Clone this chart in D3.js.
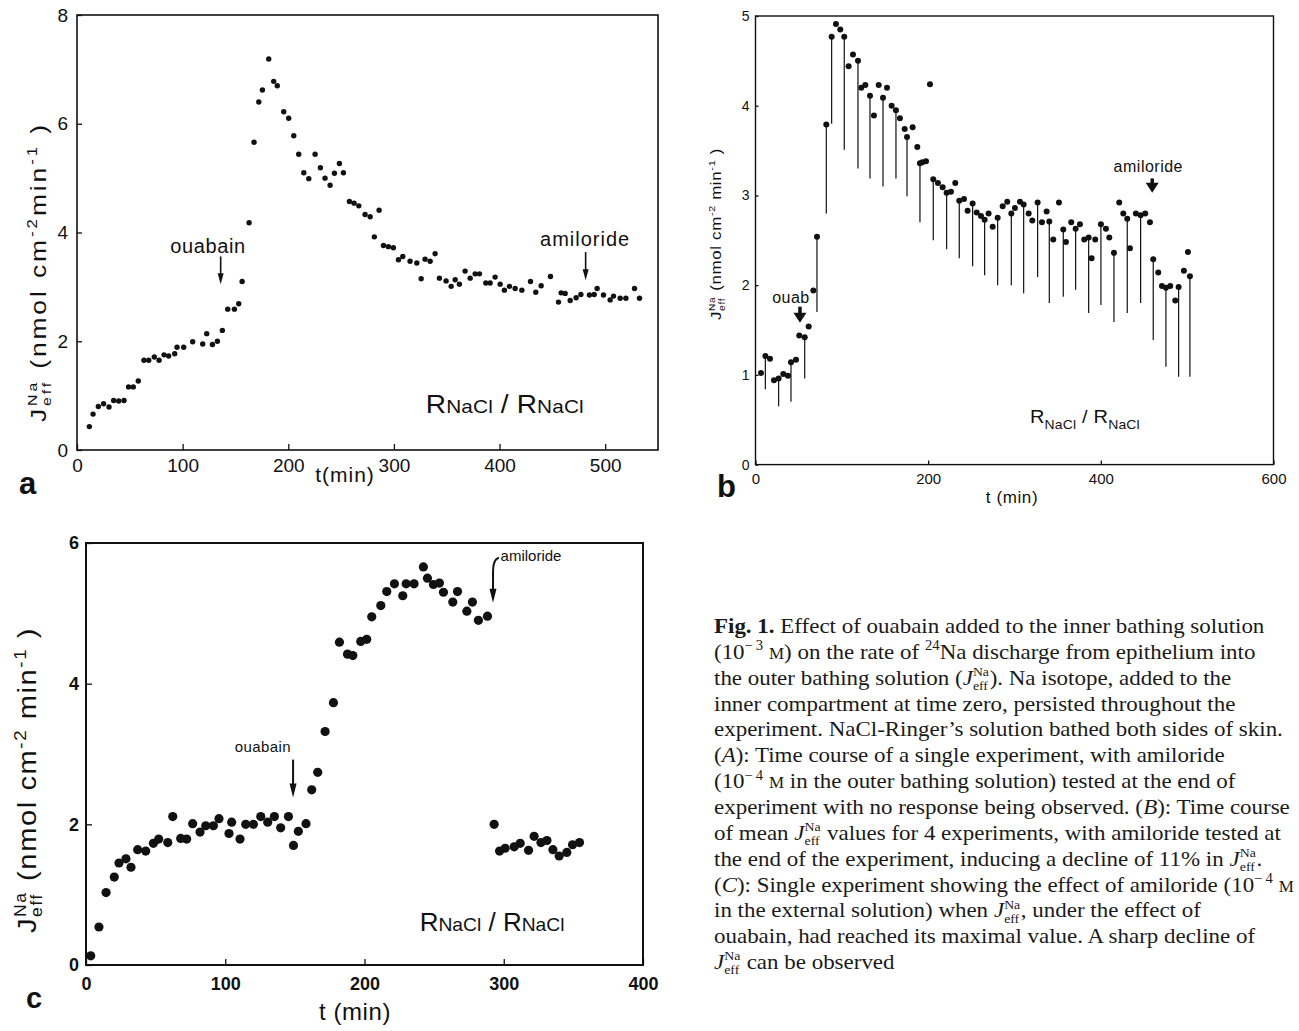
<!DOCTYPE html>
<html><head><meta charset="utf-8">
<script src="https://cdn.jsdelivr.net/npm/d3@7"></script>
<style>
body{margin:0;background:#fff}
svg{display:block}
text{white-space:pre}
</style>
</head><body>
<svg id="fig" width="1299" height="1031" xmlns="http://www.w3.org/2000/svg"></svg>
<script>
// ---------------- DATA ----------------
// Panel a: single experiment
const aTime = [11.7,15.2,20.2,25.2,30.3,34.7,39.5,44.5,48.8,53.3,58,63.4,67.9,73.2,77.7,82.4,86.8,92.5,94.7,101,109.5,119,122.8,128.2,132.9,137.6,142.7,149,153.1,156.3,162.9,167.6,172.1,175.5,181.5,186.2,189.6,195.7,200.4,205.2,209.9,214.7,219.4,225.4,230.4,234.8,239.6,243.7,248.4,252.2,257.9,262.3,266.8,272.7,277.5,281.5,286,290.1,294.8,299.5,304.3,308.4,315.3,321.7,325.8,329.5,334.3,339,343.1,349.4,354.2,358,362,367.4,372.2,376.9,381,387,391.1,395.8,400.6,404.6,409.4,414.8,421.1,429.3,434.3,439.4,448.2,455.8,458.3,462.1,466.9,472.5,477,485.1,489.6,492.4,498.4,504.7,507.9,514.2,519.6,527.8,532.5];
const aFlux = [0.43,0.66,0.80,0.85,0.79,0.91,0.90,0.91,1.16,1.16,1.27,1.65,1.65,1.71,1.65,1.75,1.73,1.77,1.89,1.89,1.99,1.95,2.14,1.94,2.00,2.20,2.59,2.59,2.69,3.10,4.18,5.66,6.40,6.62,7.19,6.78,6.70,6.22,6.10,5.78,5.44,5.10,4.99,5.44,5.19,5.00,4.87,5.09,5.27,5.10,4.57,4.54,4.49,4.33,4.29,3.92,4.41,3.76,3.74,3.72,3.50,3.56,3.47,3.44,3.15,3.51,3.47,3.61,3.16,3.11,3.01,3.13,3.05,3.29,3.16,3.24,3.24,3.07,3.07,3.18,3.05,2.94,3.01,2.97,2.94,3.10,2.90,3.02,3.19,2.72,2.89,2.88,2.75,2.80,2.86,2.85,2.86,2.97,2.85,2.76,2.83,2.79,2.79,2.97,2.79];

// Panel b: mean of 4 experiments, lower error bar end (null = no bar drawn)
const bTime = [6.4,11.4,16.8,21.4,26.8,32.2,37.6,41.1,46.9,50.7,57,61.6,67,71.2,82,88.2,93.2,98.2,102.8,107.9,112.9,118.7,122.5,127.2,132.6,137.2,142.7,147.7,152.3,157.7,162.7,167.3,172.8,175.5,182,187.4,190.5,193.2,197.5,202.1,205.9,211.3,216.8,221.4,226.4,231.4,236,241.5,245.7,251.5,256.2,261.2,265.4,270,274.7,280.5,286.3,291.6,296.3,300.5,306.3,310.6,316.4,320.6,326.8,331.8,337.2,340.3,344.9,351.5,356.5,359.6,365.7,370.8,375.8,380.8,385.9,389.3,393.5,400.1,405.9,409.8,415.2,421.3,426,430.6,433.7,440.6,446.1,451.4,456.9,460.7,466.5,470.8,475.4,480.4,486.2,490.1,496.2,500.9,503.2];
const bFlux = [1.02,1.21,1.18,0.94,0.96,1.01,0.99,1.14,1.17,1.44,1.42,1.54,1.94,2.54,3.79,4.77,4.91,4.85,4.77,4.44,4.57,4.50,4.20,4.23,4.11,3.89,4.23,4.09,4.20,4.00,3.95,3.86,3.74,3.65,3.76,3.54,3.36,3.37,3.38,4.24,3.18,3.14,3.09,3.03,3.04,3.14,2.94,2.96,2.83,2.91,2.81,2.77,2.73,2.80,2.65,2.75,2.88,2.93,2.80,2.86,2.93,2.90,2.80,2.72,2.92,2.70,2.82,2.71,2.51,2.92,2.62,2.48,2.70,2.63,2.68,2.51,2.53,2.30,2.51,2.68,2.63,2.53,2.36,2.92,2.80,2.74,2.41,2.80,2.78,2.80,2.70,2.29,2.14,1.99,1.97,1.99,1.83,1.98,2.16,2.37,2.10];
const bLow  = [null,0.84,null,null,0.65,null,null,0.70,null,null,0.96,null,null,1.70,2.80,3.80,null,null,3.51,null,null,3.30,null,null,3.19,null,null,3.10,null,null,3.19,null,null,2.99,null,null,2.70,null,null,null,2.50,null,null,2.40,null,null,2.30,null,null,2.21,null,null,2.11,null,null,2.00,null,null,2.00,null,null,1.91,null,null,2.09,null,null,1.80,null,null,1.87,null,null,1.95,null,null,1.69,null,null,1.78,null,null,1.59,null,null,1.69,null,null,1.80,null,null,1.39,null,null,1.09,null,null,0.98,null,null,0.98];

// Panel c: single experiment, amiloride at maximal effect
const cTime = [3.4,9.3,14.4,20.3,23.7,28.7,32.3,37.1,42.9,48.4,52.2,58.7,62.3,68,72.3,76.6,81.9,86,91.5,95.5,102.7,104.6,110.6,114.7,120.2,125.5,130.5,135.3,139.8,145.4,149,152.5,158,162.1,166.4,171.7,177.7,182,187.8,191.6,197.3,201.6,205.2,211.7,216,221.5,227.5,229.9,235.6,242.3,245.2,249.5,253.8,256.7,263.4,266.8,273.5,277.5,281.8,288.3,293.1,297,301,307.5,311.8,317.8,321.8,326.7,331,335.3,339.8,345.3,349.4,354.4];
const cFlux = [0.13,0.54,1.03,1.25,1.45,1.51,1.39,1.64,1.62,1.73,1.79,1.74,2.11,1.80,1.79,2.01,1.89,1.98,1.98,2.08,1.87,2.03,1.79,2.00,2.00,2.11,2.03,2.11,1.95,2.11,1.70,1.90,2.01,2.49,2.74,3.32,3.73,4.59,4.42,4.40,4.60,4.63,4.95,5.11,5.31,5.42,5.25,5.42,5.42,5.66,5.50,5.41,5.43,5.30,5.16,5.31,5.03,5.16,4.90,4.96,2.00,1.62,1.66,1.68,1.73,1.63,1.83,1.74,1.77,1.64,1.55,1.60,1.71,1.74];

// Tick values
const aXTicks = [0,100,200,300,400,500];
const aYTicks = [0,2,4,6,8];
const bXTicks = [0,200,400,600];
const bYTicks = [0,1,2,3,4,5];
const cXTicks = [0,100,200,300,400];
const cYTicks = [0,2,4,6];

// ---------------- HELPERS ----------------
const svg = d3.select("#fig");
const SANS = "'Liberation Sans', Arial, sans-serif";
const SERIF = "'Liberation Serif', 'Times New Roman', serif";

// lay out a run of rich-text segments on one baseline inside a new group
function rich(parent, segs, o) {
  const g = parent.append("g");
  const fam = o.family, fs = o.size, col = o.color || "#111", ls = o.ls || 0;
  let x = 0, n = 0;
  function put(txt, y, size, weight, style) {
    const t = g.append("text").attr("x", x).attr("y", y)
      .attr("font-family", fam).attr("font-size", size)
      .attr("font-weight", weight || o.weight || "normal")
      .attr("font-style", style || "normal")
      .attr("letter-spacing", ls)
      .attr("fill", col).text(txt);
    n += txt.length;
    return t.node().getComputedTextLength();
  }
  segs.forEach(s => {
    const k = s.k || "n";
    if (k === "stack") {
      const w1 = put(s.sup, -fs * 0.40, fs * 0.60, s.w);
      const w2 = put(s.sub, fs * 0.24, fs * 0.60, s.w);
      n -= s.sub.length;
      x += Math.max(w1, w2) + fs * 0.03;
    } else if (k === "sup") {
      x += put(s.t, -fs * 0.40, fs * 0.64);
    } else if (k === "sub") {
      x += put(s.t, fs * 0.28, fs * 0.70);
    } else if (k === "small") {
      x += put(s.t, 0, fs * 0.74);
    } else if (k === "b") {
      x += put(s.t, 0, fs, "bold");
    } else if (k === "i") {
      x += put(s.t, 0, fs, null, "italic");
    } else {
      x += put(s.t, 0, fs);
    }
  });
  return { g, width: x, n };
}
// stretch (sx) plus letter-spacing so that the run takes the given length
function fitRich(parent, segs, o, len, sx) {
  const probe = rich(parent, segs, o);
  probe.g.remove();
  const ls = (len / sx - probe.width) / Math.max(1, probe.n);
  const r = rich(parent, segs, Object.assign({}, o, { ls }));
  r.sx = sx;
  return r;
}
function richAt(parent, segs, o, x, y, anchor, len, sx) {
  sx = sx || 1;
  const r = len ? fitRich(parent, segs, o, len, sx) : rich(parent, segs, o);
  const w = r.width * sx;
  let dx = x;
  if (anchor === "middle") dx = x - w / 2;
  if (anchor === "end") dx = x - w;
  r.g.attr("transform", `translate(${dx},${y}) scale(${sx},1)`);
  return r;
}
function richRot(parent, segs, o, cx, cy, len, sx) {
  const outer = parent.append("g").attr("transform", `translate(${cx},${cy}) rotate(-90)`);
  return richAt(outer, segs, o, 0, 0, "middle", len, sx);
}
function arrow(g, x, y1, y2, hw, hl, sw) {
  g.append("line").attr("x1", x).attr("x2", x).attr("y1", y1).attr("y2", y2 - hl + 1)
    .attr("stroke", "#111").attr("stroke-width", sw);
  g.append("path").attr("d", `M${x - hw / 2},${y2 - hl}L${x + hw / 2},${y2 - hl}L${x},${y2}Z`)
    .attr("fill", "#111");
}
const yLabSegs = (sp) => [
  { t: "J" }, { k: "stack", sup: "Na", sub: "eff" },
  { t: " (nmol cm" }, { k: "sup", t: "-2" }, { t: sp + "min" }, { k: "sup", t: "-1" }, { t: " )" }
];
function styleAxis(g, size, weight) {
  g.select(".domain").remove();
  g.selectAll(".tick line").attr("stroke", "#111").attr("stroke-width", 1.3);
  g.selectAll(".tick text").attr("font-family", SANS).attr("font-size", size)
    .attr("font-weight", weight || "normal").attr("fill", "#111");
}
function label(g, txt, x, y, size, ls) {
  return g.append("text").attr("x", x).attr("y", y).attr("text-anchor", "middle")
    .attr("font-family", SANS).attr("font-size", size).attr("letter-spacing", ls || 0)
    .attr("fill", "#111").text(txt);
}

// ---------------- PANEL A ----------------
{
  const x = d3.scaleLinear().domain([0, 550]).range([77, 658]);
  const y = d3.scaleLinear().domain([0, 8]).range([450, 15]);
  const g = svg.append("g");
  g.append("rect").attr("x", x(0)).attr("y", y(8)).attr("width", x(550) - x(0)).attr("height", y(0) - y(8))
    .attr("fill", "none").attr("stroke", "#111").attr("stroke-width", 1.6);
  g.append("g").attr("transform", `translate(0,${y(0)})`)
    .call(d3.axisBottom(x).tickValues(aXTicks).tickSize(-6).tickPadding(9).tickFormat(d3.format("d")))
    .call(a => styleAxis(a, 19));
  g.append("g").attr("transform", `translate(${x(0)},0)`)
    .call(d3.axisLeft(y).tickValues(aYTicks).tickSize(-5).tickPadding(9).tickFormat(d3.format("d")))
    .call(a => styleAxis(a, 19));
  g.selectAll("circle.pa").data(aTime).join("circle").attr("class", "pa")
    .attr("cx", d => x(d)).attr("cy", (d, i) => y(aFlux[i])).attr("r", 2.7).attr("fill", "#111");
  // annotations
  label(g, "ouabain", x(124), y(3.62), 20, 0.6);
  arrow(g, x(136), y(3.56), y(3.05), 6, 11, 1.6);
  label(g, "amiloride", x(481), y(3.75), 20, 1);
  arrow(g, x(481.5), y(3.64), y(3.12), 6, 11, 1.6);
  richAt(g, [{ t: "R" }, { k: "small", t: "NaCl" }, { t: " / R" }, { k: "small", t: "NaCl" }],
    { family: SANS, size: 26 }, x(405), y(0.68), "middle", 158, 1.08);
  // axis titles
  richRot(g, yLabSegs(""), { family: SANS, size: 22 }, 46, 272, 300, 1.2);
  label(g, "t(min)", 345, 482, 21, 1);
  g.append("text").attr("x", 19).attr("y", 494).attr("font-family", SANS).attr("font-size", 31)
    .attr("font-weight", "bold").attr("fill", "#111").text("a");
}

// ---------------- PANEL B ----------------
{
  const x = d3.scaleLinear().domain([0, 600]).range([755.5, 1273.5]);
  const y = d3.scaleLinear().domain([0, 5]).range([464.6, 16]);
  const g = svg.append("g");
  g.append("rect").attr("x", x(0)).attr("y", y(5)).attr("width", x(600) - x(0)).attr("height", y(0) - y(5))
    .attr("fill", "none").attr("stroke", "#111").attr("stroke-width", 1.4);
  g.append("g").attr("transform", `translate(0,${y(0)})`)
    .call(d3.axisBottom(x).tickValues(bXTicks).tickSize(-4).tickPadding(9).tickFormat(d3.format("d")))
    .call(a => styleAxis(a, 15));
  g.append("g").attr("transform", `translate(${x(0)},0)`)
    .call(d3.axisLeft(y).tickValues(bYTicks).tickSize(-3).tickPadding(6).tickFormat(d3.format("d")))
    .call(a => styleAxis(a, 14));
  const idx = d3.range(bTime.length);
  g.selectAll("line.eb").data(idx.filter(i => bLow[i] !== null)).join("line").attr("class", "eb")
    .attr("x1", i => x(bTime[i])).attr("x2", i => x(bTime[i]))
    .attr("y1", i => y(bFlux[i])).attr("y2", i => y(bLow[i]))
    .attr("stroke", "#111").attr("stroke-width", 1.2);
  g.selectAll("circle.pb").data(idx).join("circle").attr("class", "pb")
    .attr("cx", i => x(bTime[i])).attr("cy", i => y(bFlux[i])).attr("r", 3).attr("fill", "#111");
  // annotations
  label(g, "ouab", x(41), y(1.80), 16, 0.4);
  arrow(g, x(51.5), y(1.76), y(1.58), 13, 10, 3.5);
  label(g, "amiloride", x(455), y(3.26), 16, 0.5);
  arrow(g, x(459.5), y(3.19), y(3.03), 13, 10, 3.5);
  richAt(g, [{ t: "R" }, { k: "sub", t: "NaCl" }, { t: " / R" }, { k: "sub", t: "NaCl" }],
    { family: SANS, size: 19 }, x(381.6), y(0.46), "middle", 110, 1.05);
  richRot(g, yLabSegs(" "), { family: SANS, size: 15 }, 721, 234, 172, 1.12);
  label(g, "t (min)", 1012, 503, 17, 0.6);
  g.append("text").attr("x", 717).attr("y", 497).attr("font-family", SANS).attr("font-size", 31)
    .attr("font-weight", "bold").attr("fill", "#111").text("b");
}

// ---------------- PANEL C ----------------
{
  const x = d3.scaleLinear().domain([0, 400]).range([86, 643]);
  const y = d3.scaleLinear().domain([0, 6]).range([965, 543]);
  const g = svg.append("g");
  g.append("rect").attr("x", x(0)).attr("y", y(6)).attr("width", x(400) - x(0)).attr("height", y(0) - y(6))
    .attr("fill", "none").attr("stroke", "#111").attr("stroke-width", 2);
  g.append("g").attr("transform", `translate(0,${y(0)})`)
    .call(d3.axisBottom(x).tickValues(cXTicks).tickSize(-6).tickPadding(12).tickFormat(d3.format("d")))
    .call(a => styleAxis(a, 18, "bold"));
  g.append("g").attr("transform", `translate(${x(0)},0)`)
    .call(d3.axisLeft(y).tickValues(cYTicks).tickSize(-6).tickPadding(7).tickFormat(d3.format("d")))
    .call(a => styleAxis(a, 18, "bold"));
  g.selectAll("circle.pc").data(cTime).join("circle").attr("class", "pc")
    .attr("cx", d => x(d)).attr("cy", (d, i) => y(cFlux[i])).attr("r", 4.6).attr("fill", "#111");
  label(g, "ouabain", x(127), y(3.03), 15, 0.4);
  arrow(g, x(148.7), y(2.92), y(2.38), 7, 14, 2);
  label(g, "amiloride", x(319.6), y(5.74), 15, 0);
  // hooked arrow
  g.append("path").attr("d", `M${x(296.5)},${y(5.79)}Q${x(292.3)},${y(5.77)} ${x(292.3)},${y(5.6)}L${x(292.3)},${y(5.33)}`)
    .attr("fill", "none").attr("stroke", "#111").attr("stroke-width", 2);
  arrow(g, x(292.3), y(5.4), y(5.15), 7, 14, 2);
  richAt(g, [{ t: "R" }, { k: "small", t: "NaCl" }, { t: " / R" }, { k: "small", t: "NaCl" }],
    { family: SANS, size: 26 }, x(291.6), y(0.48), "middle");
  richRot(g, yLabSegs(" "), { family: SANS, size: 26 }, 36, 780, 306, 1.12);
  label(g, "t (min)", 355, 1020, 24, 0.6);
  g.append("text").attr("x", 26).attr("y", 1008).attr("font-family", SANS).attr("font-size", 29)
    .attr("font-weight", "bold").attr("fill", "#111").text("c");
}

// ---------------- CAPTION ----------------
{
  const J = [{ k: "i", t: "J" }, { k: "stack", sup: "Na", sub: "eff" }];
  const M = { k: "small", t: "M" };
  const lines = [
    [{ k: "b", t: "Fig. 1." }, { t: " Effect of ouabain added to the inner bathing solution" }],
    [{ t: "(10" }, { k: "sup", t: "\u2212\u20093" }, { t: " " }, M, { t: ") on the rate of " }, { k: "sup", t: "24" }, { t: "Na discharge from epithelium into" }],
    [{ t: "the outer bathing solution (" }, ...J, { t: "). Na isotope, added to the" }],
    [{ t: "inner compartment at time zero, persisted throughout the" }],
    [{ t: "experiment. NaCl-Ringer\u2019s solution bathed both sides of skin." }],
    [{ t: "(" }, { k: "i", t: "A" }, { t: "): Time course of a single experiment, with amiloride" }],
    [{ t: "(10" }, { k: "sup", t: "\u2212\u20094" }, { t: " " }, M, { t: " in the outer bathing solution) tested at the end of" }],
    [{ t: "experiment with no response being observed. (" }, { k: "i", t: "B" }, { t: "): Time course" }],
    [{ t: "of mean " }, ...J, { t: " values for 4 experiments, with amiloride tested at" }],
    [{ t: "the end of the experiment, inducing a decline of 11% in " }, ...J, { t: "." }],
    [{ t: "(" }, { k: "i", t: "C" }, { t: "): Single experiment showing the effect of amiloride (10" }, { k: "sup", t: "\u2212\u20094" }, { t: " " }, M],
    [{ t: "in the external solution) when " }, ...J, { t: ", under the effect of" }],
    [{ t: "ouabain, had reached its maximal value. A sharp decline of" }],
    [...J, { t: " can be observed" }]
  ];
  const g = svg.append("g");
  lines.forEach((segs, i) => {
    const r = rich(g, segs, { family: SERIF, size: 21.5, color: "#1a1a1a" });
    r.g.attr("transform", `translate(714,${633 + i * 25.85}) scale(1.068,1)`);
  });
}
</script>
</body></html>
